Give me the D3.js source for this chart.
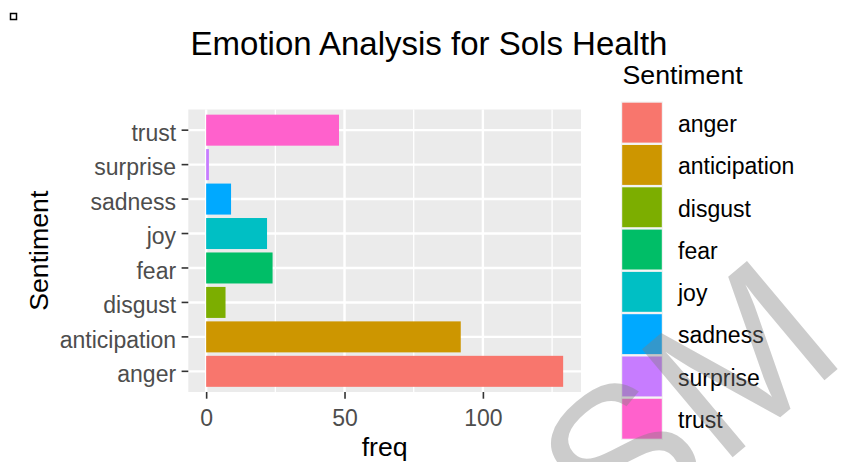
<!DOCTYPE html>
<html>
<head>
<meta charset="utf-8">
<script src="https://cdn.jsdelivr.net/npm/d3@7"></script>
<style>
  body { margin: 0; background: #fff; }
  svg text { font-family: "Liberation Sans", Arial, sans-serif; }
</style>
</head>
<body>
<div id="chart"></div>
<script>
'use strict';

// data
var sentiments = ['anger', 'anticipation', 'disgust', 'fear', 'joy', 'sadness', 'surprise', 'trust'];
var freq = [129, 92, 7, 24, 22, 9, 1, 48];
var colours = ['#F8766D', '#CD9600', '#7CAE00', '#00BE67', '#00BFC4', '#00A9FF', '#C77CFF', '#FF61CC'];
var xTicks = [0, 50, 100];
var xMinor = [25, 75, 125];

var width = 847, height = 462;
var panel = { left: 188.3, right: 581, top: 109.5, bottom: 392 };

var svg = d3.select('#chart').append('svg')
  .attr('width', width)
  .attr('height', height);

// little box top left
svg.append('rect')
  .attr('x', 10.5).attr('y', 13.5)
  .attr('width', 6).attr('height', 6)
  .attr('fill', '#fff').attr('stroke', '#000').attr('stroke-width', 1.5);

var maxF = d3.max(freq);
var x = d3.scaleLinear()
  .domain([-0.05 * maxF, 1.05 * maxF])
  .range([panel.left, panel.right]);

var y = d3.scaleBand()
  .domain(sentiments.slice().reverse())
  .range([panel.top, panel.bottom])
  .paddingInner(0.1)
  .paddingOuter(0.15);

var colour = d3.scaleOrdinal().domain(sentiments).range(colours);

// panel
svg.append('rect')
  .attr('x', panel.left).attr('y', panel.top)
  .attr('width', panel.right - panel.left)
  .attr('height', panel.bottom - panel.top)
  .attr('fill', '#EBEBEB');

var grid = svg.append('g').attr('stroke', '#fff');
grid.selectAll('.minor').data(xMinor).enter().append('line')
  .attr('x1', function(d){ return x(d); }).attr('x2', function(d){ return x(d); })
  .attr('y1', panel.top).attr('y2', panel.bottom)
  .attr('stroke-width', 1.3);
grid.selectAll('.major').data(xTicks).enter().append('line')
  .attr('x1', function(d){ return x(d); }).attr('x2', function(d){ return x(d); })
  .attr('y1', panel.top).attr('y2', panel.bottom)
  .attr('stroke-width', 2.4);
grid.selectAll('.hmajor').data(sentiments).enter().append('line')
  .attr('x1', panel.left).attr('x2', panel.right)
  .attr('y1', function(d){ return y(d) + y.bandwidth() / 2; })
  .attr('y2', function(d){ return y(d) + y.bandwidth() / 2; })
  .attr('stroke-width', 2.4);

// bars
svg.append('g').selectAll('rect').data(sentiments).enter().append('rect')
  .attr('x', x(0))
  .attr('y', function(d){ return y(d); })
  .attr('width', function(d, i){ return x(freq[i]) - x(0); })
  .attr('height', y.bandwidth())
  .attr('fill', function(d){ return colour(d); });

// axes
var xAxis = svg.append('g')
  .attr('transform', 'translate(0,' + panel.bottom + ')')
  .call(d3.axisBottom(x).tickValues(xTicks).tickSize(6.7).tickPadding(4));
var yAxis = svg.append('g')
  .attr('transform', 'translate(' + panel.left + ',0)')
  .call(d3.axisLeft(y).tickSize(6.7).tickPadding(5.5));

[xAxis, yAxis].forEach(function(a){
  a.select('.domain').remove();
  a.selectAll('.tick line').attr('stroke', '#333333').attr('stroke-width', 1.6);
  a.selectAll('.tick text')
    .attr('fill', '#4D4D4D')
    .style('font-size', '23px')
    .style('font-family', '"Liberation Sans", Arial, sans-serif');
});
yAxis.selectAll('.tick text').attr('dy', '0.47em');
xAxis.selectAll('.tick text').attr('dy', '1.0em');

// titles
svg.append('text')
  .attr('x', 429).attr('y', 54.5)
  .attr('text-anchor', 'middle')
  .style('font-size', '33px')
  .attr('fill', '#000')
  .text('Emotion Analysis for Sols Health');

svg.append('text')
  .attr('x', (panel.left + panel.right) / 2).attr('y', 456)
  .attr('text-anchor', 'middle')
  .style('font-size', '26.7px')
  .text('freq');

svg.append('text')
  .attr('transform', 'translate(48,' + ((panel.top + panel.bottom) / 2) + ') rotate(-90)')
  .attr('text-anchor', 'middle')
  .style('font-size', '26.7px')
  .text('Sentiment');

// legend
var legend = svg.append('g').attr('transform', 'translate(621,101.5)');
legend.append('text')
  .attr('x', 1.5).attr('y', -17.2)
  .style('font-size', '26.7px')
  .text('Sentiment');

var keyStep = 42.3;
var keys = legend.selectAll('.key').data(sentiments).enter().append('g')
  .attr('transform', function(d, i){ return 'translate(0,' + (i * keyStep) + ')'; });
keys.append('rect')
  .attr('width', 42).attr('height', keyStep)
  .attr('fill', '#F2F2F2');
keys.append('rect')
  .attr('x', 1.2).attr('y', 1.2)
  .attr('width', 39.6).attr('height', keyStep - 2.4)
  .attr('fill', function(d){ return colour(d); });
keys.append('text')
  .attr('x', 57).attr('y', keyStep / 2 + 9.3)
  .style('font-size', '23px')
  .attr('fill', '#000')
  .text(function(d){ return d; });

// watermark
svg.append('text')
  .attr('transform', 'translate(615,556) rotate(-40)')
  .style('font-size', '205px')
  .attr('fill', '#808080')
  .attr('fill-opacity', 0.4)
  .text('SM');
</script>
</body>
</html>
